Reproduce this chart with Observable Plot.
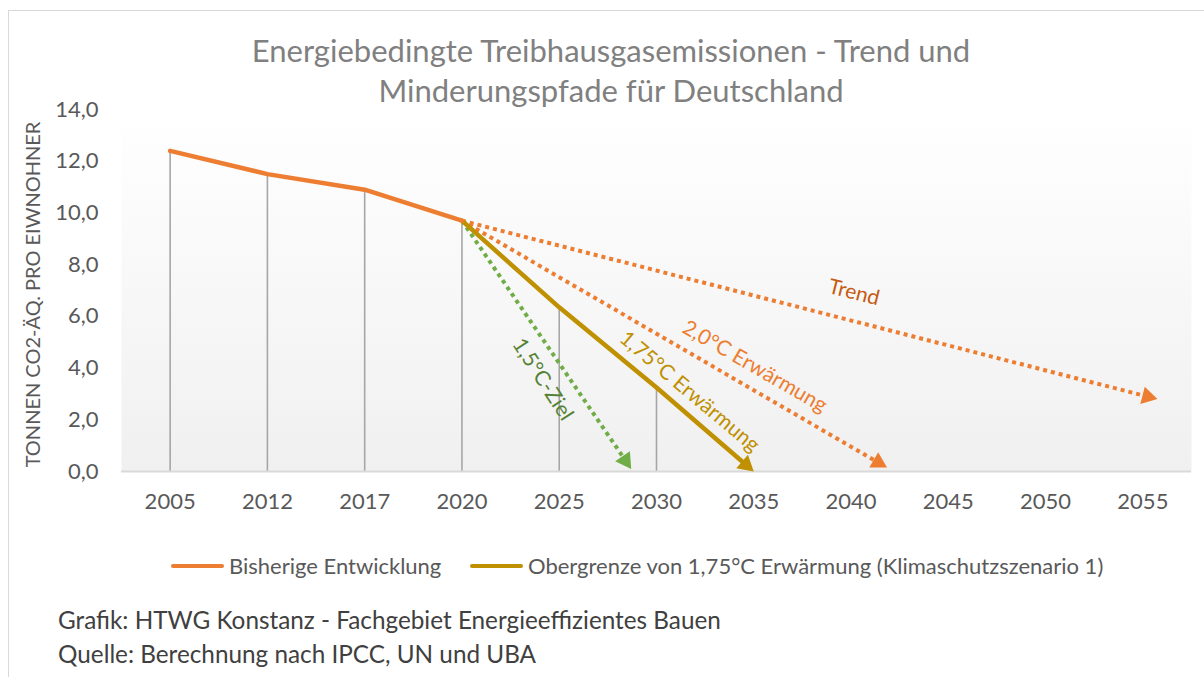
<!DOCTYPE html>
<html><head><meta charset="utf-8">
<script src="https://cdn.jsdelivr.net/npm/d3@7"></script>
<script src="https://cdn.jsdelivr.net/npm/@observablehq/plot@0.6"></script>
<style>
body{margin:0;background:#fff;font-family:Lato,"Open Sans",sans-serif;}
#wrap{position:relative;width:1204px;height:677px;overflow:hidden;background:#fff;}
#border{position:absolute;left:8px;top:10px;width:1300px;height:800px;border-left:1.5px solid #d9d9d9;border-top:1.5px solid #d9d9d9;}
#chart{position:absolute;left:0;top:0;}
#title{position:absolute;left:0;width:1222px;top:30px;text-align:center;font-size:31px;color:#808080;line-height:40px;}
.leg{position:absolute;top:554px;font-size:22px;color:#595959;line-height:24px;white-space:nowrap;}
.sw{position:absolute;height:4px;border-radius:2px;top:564px;}
.cap{position:absolute;left:58px;font-size:24.3px;color:#404040;white-space:nowrap;line-height:28px;}
</style>
</head><body>
<div id="wrap">
  <div id="border"></div>
  <div id="chart"></div>
  <div id="title">Energiebedingte Treibhausgasemissionen - Trend und<br>Minderungspfade für Deutschland</div>
  <div id="legend"></div>
  <div class="cap" style="top:606px">Grafik: HTWG Konstanz - Fachgebiet Energieeffizientes Bauen</div>
  <div class="cap" style="top:640px">Quelle: Berechnung nach IPCC, UN und UBA</div>
</div>
<script>
// ---- data ----
const categories = ["2005","2012","2017","2020","2025","2030","2035","2040","2045","2050","2055"];
const historyIdx = [0, 1, 2, 3];
const historyValues = [12.4, 11.5, 10.9, 9.7];
const path175Idx = [3, 4, 5, 6];
const path175Values = [9.7, 6.35, 3.25, 0];
const trendIdx = [3, 10.15];
const trendValues = [9.7, 2.8];
const path20Idx = [3, 7.37];
const path20Values = [9.7, 0.15];
const path15Idx = [3, 4.74];
const path15Values = [9.7, 0.1];
const yTicks = [0, 2, 4, 6, 8, 10, 12, 14];
const yLabel = "TONNEN CO2-ÄQ. PRO EIWNOHNER";
const legendItems = ["Bisherige Entwicklung", "Obergrenze von 1,75°C Erwärmung (Klimaschutzszenario 1)"];
const pathLabels = [
  {text: "Trend", idx: 7.03, value: 6.92, angle: 14, color: "#c55a11"},
  {text: "2,0°C Erwärmung", idx: 6.01, value: 4.06, angle: 30, color: "#ed7d31"},
  {text: "1,75°C Erwärmung", idx: 5.34, value: 3.09, angle: 40, color: "#bf9000"},
  {text: "1,5°C-Ziel", idx: 3.83, value: 3.56, angle: 57, color: "#548235"}
];

const ORANGE = "#ed7d31", GOLD = "#bf9000", GREEN = "#70ad47";

const W = 1204, H = 540;
const xOpts = {type: "linear", domain: [-0.5, 10.5], range: [121, 1191]};
const yOpts = {type: "linear", domain: [0, 14], range: [471, 109]};
const xs = Plot.scale({x: xOpts});
const ys = Plot.scale({y: yOpts});

const zip = (a, b) => a.map((d, i) => ({idx: d, value: b[i]}));
const history = zip(historyIdx, historyValues);
const p175 = zip(path175Idx, path175Values);
const trend = zip(trendIdx, trendValues);
const p20 = zip(path20Idx, path20Values);
const p15 = zip(path15Idx, path15Values);
const drops = history.concat(p175.slice(1, 3));

// arrowhead geometry (derived from data through scales)
const R = 6.6;
const tipDist = 2 * Math.sqrt(R * R * Math.PI / (Math.sqrt(3) * 3));
function arrow(pts) {
  const a = pts[pts.length - 2], b = pts[pts.length - 1];
  const ax = xs.apply(a.idx), ay = ys.apply(a.value), bx = xs.apply(b.idx), by = ys.apply(b.value);
  const len = Math.hypot(bx - ax, by - ay), ux = (bx - ax) / len, uy = (by - ay) / len;
  const cx = bx - ux * tipDist, cy = by - uy * tipDist;
  const head = {idx: xs.invert(cx), value: ys.invert(cy), rot: Math.atan2(ux, -uy) * 180 / Math.PI};
  const shortened = pts.slice(0, -1).concat([{idx: xs.invert(bx - ux * tipDist * 0.9), value: ys.invert(by - uy * tipDist * 0.9)}]);
  return {head, line: shortened};
}
const aTrend = arrow(trend), a20 = arrow(p20), a15 = arrow(p15), a175 = arrow(p175);

const dots = {strokeWidth: 4, strokeDasharray: "4 4", strokeLinecap: "butt"};

const plot = Plot.plot({
  width: W, height: H,
  marginLeft: 121, marginRight: 13, marginTop: 109, marginBottom: 69,
  x: {...xOpts, axis: null},
  y: {...yOpts, axis: null},
  style: {fontFamily: "Lato, 'Open Sans', sans-serif", color: "#595959", background: "transparent", overflow: "visible"},
  marks: [
    Plot.frame({fill: "url(#plotbg)", stroke: null}),
    Plot.ruleX(drops, {x: "idx", y1: 0, y2: "value", stroke: "#a6a6a6", strokeWidth: 1.6}),
    Plot.ruleY([0], {stroke: "#d9d9d9", strokeWidth: 2}),
    Plot.axisX({ticks: d3.range(categories.length), tickFormat: i => categories[i], tickSize: 0, tickPadding: 22, fontSize: 22, label: null}),
    Plot.axisY({ticks: yTicks, tickFormat: d => d.toFixed(1).replace(".", ","), tickSize: 0, tickPadding: 23, fontSize: 22, label: null}),
    Plot.text([yLabel], {frameAnchor: "left", textAnchor: "middle", dx: -88, dy: 4, rotate: -90, text: d => d, fontSize: 20, fill: "#595959"}),
    Plot.line(aTrend.line, {x: "idx", y: "value", stroke: ORANGE, ...dots}),
    Plot.line(a20.line, {x: "idx", y: "value", stroke: ORANGE, ...dots}),
    Plot.line(a15.line, {x: "idx", y: "value", stroke: GREEN, ...dots}),
    Plot.line(a175.line, {x: "idx", y: "value", stroke: GOLD, strokeWidth: 4.5}),
    Plot.line(history, {x: "idx", y: "value", stroke: ORANGE, strokeWidth: 4.5, strokeLinejoin: "round"}),
    Plot.dot([aTrend.head, a20.head], {x: "idx", y: "value", rotate: "rot", symbol: "triangle", r: R, fill: ORANGE, stroke: null}),
    Plot.dot([a15.head], {x: "idx", y: "value", rotate: "rot", symbol: "triangle", r: R, fill: GREEN, stroke: null}),
    Plot.dot([a175.head], {x: "idx", y: "value", rotate: "rot", symbol: "triangle", r: R, fill: GOLD, stroke: null}),
    Plot.text(pathLabels, {x: "idx", y: "value", text: "text", rotate: "angle", fill: "color", fontSize: 21})
  ]
});

const svg = d3.select(plot);
const defs = svg.insert("defs", ":first-child");
const g = defs.append("linearGradient").attr("id", "plotbg").attr("x1", 0).attr("y1", 0).attr("x2", 0).attr("y2", 1);
g.append("stop").attr("offset", "0%").attr("stop-color", "#ffffff");
g.append("stop").attr("offset", "100%").attr("stop-color", "#f0f0f0");
document.getElementById("chart").appendChild(plot);

// legend
const legColors = [ORANGE, GOLD];
const legSw = [171, 470];
const leg = document.getElementById("legend");
legendItems.forEach((t, i) => {
  const s = document.createElement("div");
  s.className = "sw"; s.style.left = legSw[i] + "px"; s.style.width = "53px"; s.style.background = legColors[i];
  leg.appendChild(s);
  const l = document.createElement("div");
  l.className = "leg"; l.style.left = (legSw[i] + 58) + "px"; l.textContent = t;
  leg.appendChild(l);
});
</script>
</body></html>
